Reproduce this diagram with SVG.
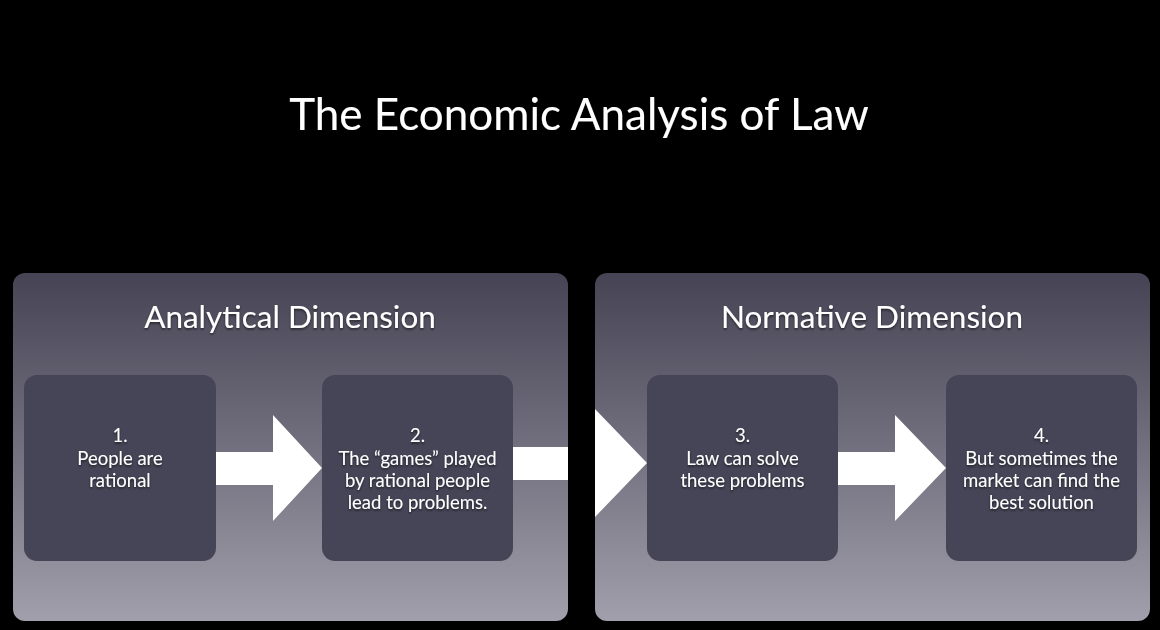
<svg xmlns="http://www.w3.org/2000/svg" width="1160" height="630" viewBox="0 0 1160 630">
<defs>
<linearGradient id="panelGrad" x1="0" y1="0" x2="0" y2="1">
<stop offset="0" stop-color="#464454"/>
<stop offset="0.5" stop-color="#72707e"/>
<stop offset="1" stop-color="#a19fab"/>
</linearGradient>
<filter id="sh" x="-10%" y="-10%" width="120%" height="130%">
<feDropShadow dx="0" dy="1.5" stdDeviation="1.2" flood-color="#000" flood-opacity="0.6"/>
</filter>
</defs>
<style>
.panel{fill:url(#panelGrad);}
.box{fill:#464557;}
.t{font-family:Lato,"Open Sans","Liberation Sans",sans-serif;fill:#fff;text-anchor:middle;filter:url(#sh);}
.title{font-size:44px;}
.head{font-size:31.5px;}
.lbl{font-size:18.5px;}
.arrow{fill:#fff;}
</style>
<rect x="0" y="0" width="1160" height="630" fill="#000"/>
<text class="t title" x="579" y="130">The Economic Analysis of Law</text>

<g id="panel-analytical">
<rect class="panel" x="13" y="273" width="555" height="348" rx="12"/>
<text class="t head" x="290" y="328">Analytical Dimension</text>
</g>
<g id="panel-normative">
<rect class="panel" x="595" y="273" width="555" height="348" rx="12"/>
<text class="t head" x="872" y="328">Normative Dimension</text>
</g>

<g id="connectors">
<path class="arrow" d="M216,452 H273 V415 L322,468 L273,521 V485 H216 Z"/>
<path class="arrow" d="M513,447 H568 V480 H513 Z M595,409 L647,463 L595,517 Z"/>
<path class="arrow" d="M838,452 H895 V415 L946,468 L895,521 V485 H838 Z"/>
</g>

<g id="node1">
<rect class="box" x="24" y="375" width="192" height="186" rx="13"/>
<text class="t lbl" x="120" y="442">1.</text>
<text class="t lbl" x="120" y="465">People are</text>
<text class="t lbl" x="120" y="487">rational</text>
</g>
<g id="node2">
<rect class="box" x="322" y="375" width="191" height="186" rx="13"/>
<text class="t lbl" x="417.5" y="442">2.</text>
<text class="t lbl" x="417.5" y="465">The “games” played</text>
<text class="t lbl" x="417.5" y="487">by rational people</text>
<text class="t lbl" x="417.5" y="509">lead to problems.</text>
</g>
<g id="node3">
<rect class="box" x="647" y="375" width="191" height="186" rx="13"/>
<text class="t lbl" x="742.5" y="442">3.</text>
<text class="t lbl" x="742.5" y="465">Law can solve</text>
<text class="t lbl" x="742.5" y="487">these problems</text>
</g>
<g id="node4">
<rect class="box" x="946" y="375" width="191" height="186" rx="13"/>
<text class="t lbl" x="1041.5" y="442">4.</text>
<text class="t lbl" x="1041.5" y="465">But sometimes the</text>
<text class="t lbl" x="1041.5" y="487">market can find the</text>
<text class="t lbl" x="1041.5" y="509">best solution</text>
</g>
</svg>
